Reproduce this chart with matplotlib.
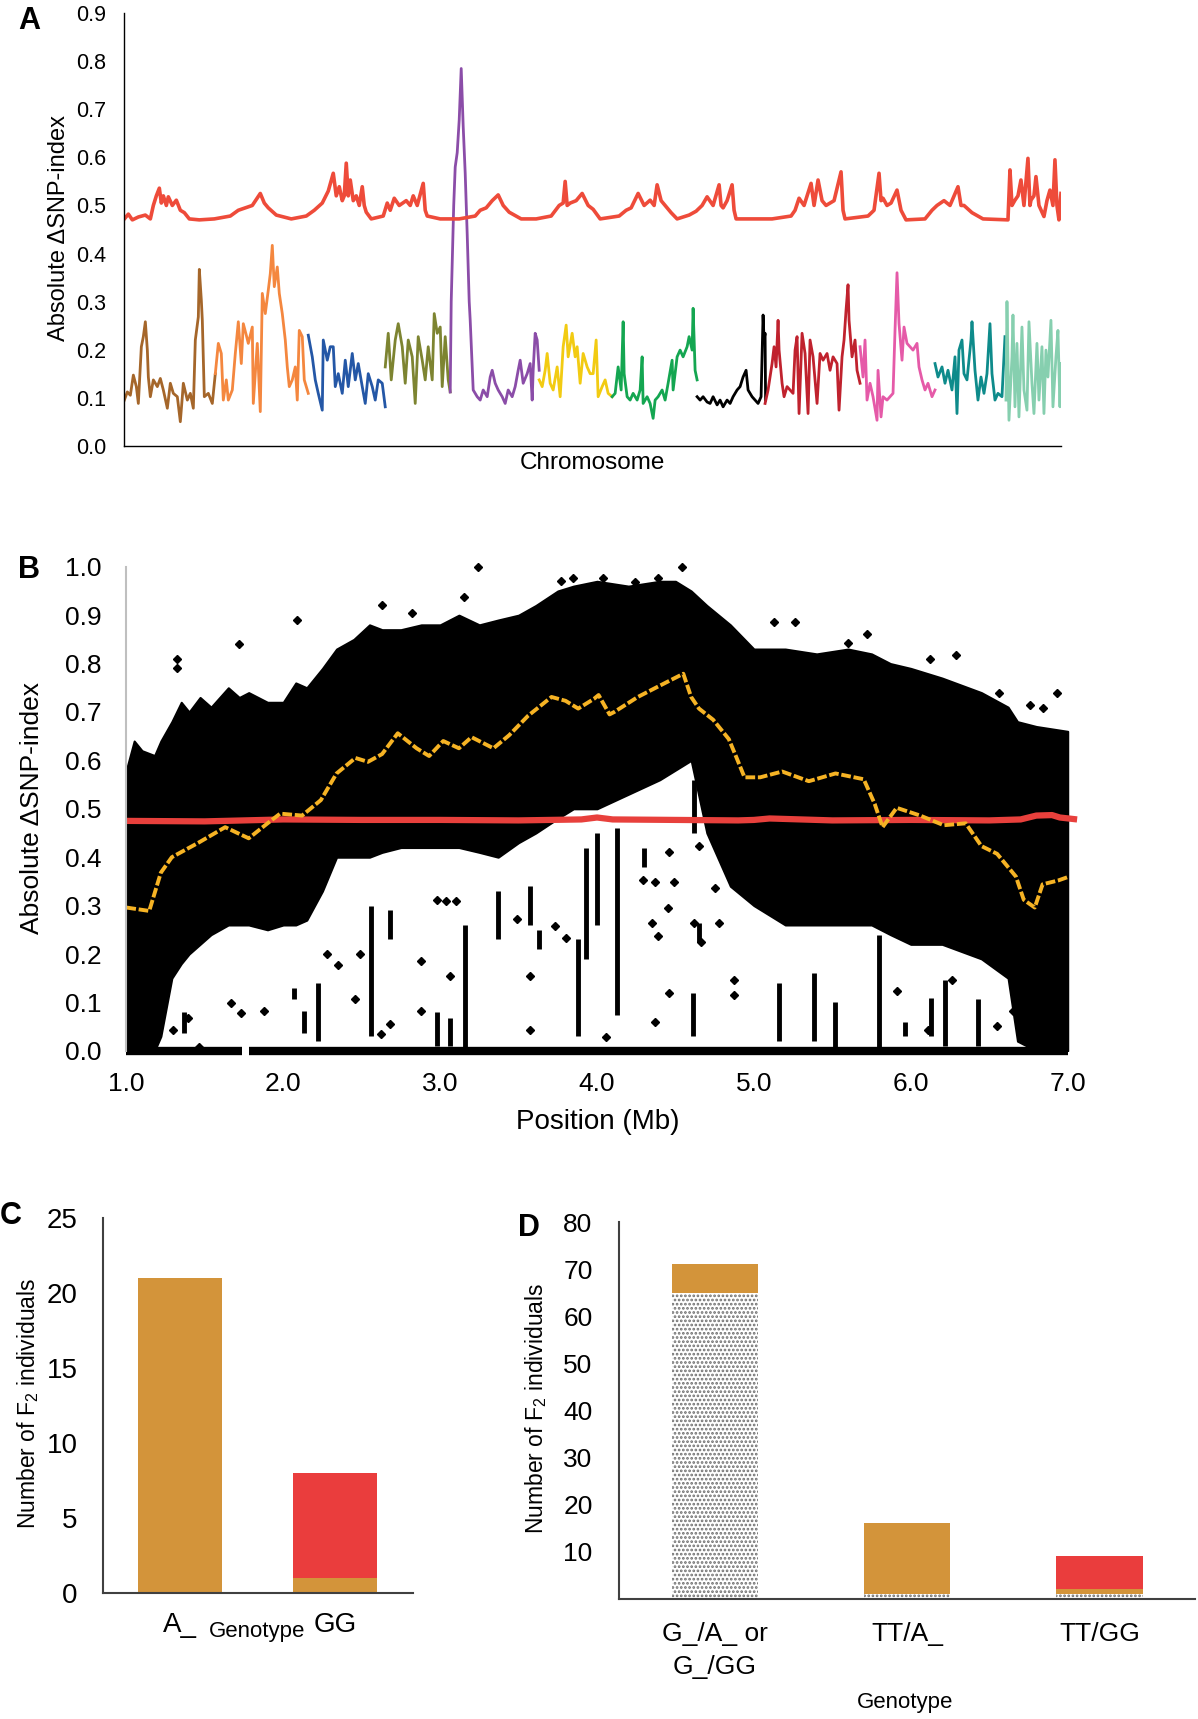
import matplotlib
matplotlib.use("Agg")
import matplotlib.pyplot as plt

plt.rcParams["font.family"] = ["Liberation Sans", "DejaVu Sans"]
plt.rcParams["mathtext.default"] = "regular"
plt.rcParams["hatch.linewidth"] = 1.3

NARROW = ["Liberation Sans Narrow", "Liberation Sans", "DejaVu Sans"]

# --- Panel A: absolute delta SNP-index per chromosome (position along genome, index)
chr1 = [(0, .095), (3, .112), (6, .105), (9, .147), (12, .123), (14, .088), (17, .206), (19, .227),
        (21, .258), (23, .199), (24, .143), (26, .102), (29, .137), (33, .123), (36, .14), (39, .116),
        (43, .078), (46, .13), (49, .109), (53, .102), (56, .05), (58, .102), (59, .13), (63, .095),
        (66, .109), (69, .078), (71, .22), (74, .268), (75, .367), (77, .303), (78, .261), (80, .102),
        (84, .109), (88, .088), (91, .15)]
chr2 = [(91, .15), (94, .213), (97, .192), (99, .095), (102, .137), (104, .095), (108, .116), (111, .192),
        (114, .258), (117, .171), (119, .254), (122, .23), (124, .213), (128, .247), (129, .088), (133, .213),
        (136, .071), (138, .317), (141, .275), (144, .324), (146, .358), (148, .417), (150, .331), (153, .372),
        (155, .317), (158, .275), (161, .22), (163, .164), (165, .123), (168, .137), (171, .164), (173, .095),
        (175, .24), (178, .227), (180, .137), (184, .109)]
chr3 = [(184, .23), (188, .185), (191, .137), (194, .109), (198, .074), (199, .22), (203, .178), (206, .206),
        (209, .206), (211, .123), (214, .15), (218, .109), (221, .178), (224, .123), (228, .192), (231, .137),
        (234, .171), (238, .123), (241, .088), (244, .15), (248, .123), (251, .095), (254, .137), (258, .13),
        (261, .081)]
chr4 = [(261, .164), (264, .234), (267, .137), (271, .22), (274, .254), (278, .206), (281, .13), (284, .22),
        (288, .185), (291, .088), (294, .227), (298, .178), (301, .137), (304, .206), (308, .137), (310, .275),
        (313, .234), (316, .247), (318, .123), (321, .227), (324, .137), (326, .112)]
chr5 = [(326, .112), (327, .30), (329.5, .50), (331, .58), (333, .61), (335, .678), (337, .785), (339, .664),
        (341, .567), (343, .44), (345, .30), (346, .261), (349, .116), (353, .102), (356, .095), (359, .116),
        (363, .102), (366, .143), (368, .157), (371, .13), (374, .116), (378, .102), (381, .088), (384, .116),
        (388, .102), (391, .123), (394, .157), (396, .178), (399, .13), (403, .15), (406, .171), (408, .095),
        (409, .157), (411, .234), (413, .22), (415, .157)]
chr6 = [(415, .137), (418, .123), (421, .157), (423, .192), (426, .13), (429, .116), (433, .164), (436, .102),
        (439, .206), (442, .251), (444, .185), (448, .234), (451, .185), (453, .206), (456, .13), (459, .192),
        (463, .164), (466, .15), (469, .15), (472, .22), (474, .102), (478, .123), (481, .137), (484, .109),
        (488, .102)]
chr7 = [(488, .102), (491, .109), (494, .164), (497, .116), (499, .258), (500, .15), (503, .102), (506, .095),
        (509, .109), (513, .095), (516, .116), (518, .185), (519, .088), (523, .102), (526, .088), (529, .057),
        (531, .095), (534, .102), (538, .116), (541, .095), (544, .13), (548, .178), (549, .116), (553, .185),
        (556, .199), (559, .185), (563, .206), (565, .227), (568, .199), (569, .286), (571, .157), (573, .137)]
chr8 = [(573, .102), (576, .095), (579, .102), (583, .091), (586, .088), (589, .102), (593, .085), (596, .095),
        (599, .081), (603, .095), (606, .088), (609, .102), (613, .116), (616, .123), (619, .143), (622, .157),
        (624, .116), (628, .102), (631, .095), (634, .088), (637, .102), (639, .272), (640, .22), (641, .234),
        (641.5, .095)]
chr9 = [(641, .088), (644, .116), (648, .171), (650, .206), (652, .164), (654, .261), (655, .199), (658, .13),
        (660, .102), (663, .123), (666, .116), (669, .109), (671, .199), (673, .227), (675, .067), (678, .234),
        (681, .192), (684, .067), (686, .22), (689, .185), (693, .088), (696, .192), (699, .178), (703, .192),
        (706, .157), (709, .185), (713, .171), (715, .074), (718, .185), (720, .22), (722, .282), (724, .335),
        (725, .261), (728, .185), (731, .22), (733, .157), (736, .13)]
chr10 = [(736, .206), (739, .143), (741, .22), (743, .095), (746, .13), (749, .102), (753, .053), (754, .157),
         (757, .06), (759, .102), (763, .095), (766, .102), (769, .109), (771, .24), (773, .36), (775, .254),
         (778, .178), (780, .247), (783, .213), (786, .206), (789, .199), (793, .213), (795, .164), (798, .137),
         (801, .116), (804, .13), (808, .102), (811, .116)]
chr11 = [(811, .171), (814, .143), (818, .164), (821, .13), (824, .157), (828, .116), (831, .185), (833, .067),
         (835, .199), (838, .22), (840, .15), (843, .137), (847, .22), (848, .258), (851, .157), (854, .095),
         (857, .143), (860, .109), (863, .15), (866, .254), (868, .15), (871, .095), (874, .109), (878, .102),
         (881, .227)]
chr12 = [(882, .095), (883, .30), (885, .053), (888, .185), (889, .272), (891, .081), (893, .213), (895, .06),
         (898, .247), (900, .116), (903, .074), (905, .258), (908, .13), (910, .067), (913, .213), (915, .095),
         (918, .206), (920, .067), (922, .199), (924, .143), (927, .261), (929, .081), (932, .185), (934, .24),
         (936, .081), (937, .171)]
chr_colors = ["#A5662A", "#F4873F", "#2457A6", "#7D8431", "#8B4DA8", "#F2CB12",
              "#14A651", "#000000", "#C0222E", "#E55AA8", "#0E8B8B", "#86CFAF"]

# 99% confidence threshold line
threshold_a = [(0, .472), (4, .482), (8, .470), (14, .476), (21, .480), (26, .472), (29, .500), (32, .520),
               (35, .536), (37, .505), (39, .52), (42, .50), (44, .518), (48, .50), (52, .511), (56, .49),
               (60, .485), (65, .472), (75, .470), (90, .472), (106, .478), (114, .49), (121, .495), (128, .50),
               (136, .525), (140, .505), (144, .495), (152, .480), (167, .472), (182, .478), (190, .49),
               (198, .505), (204, .53), (209, .567), (212, .52), (215, .539), (218, .51), (220, .52),
               (222, .588), (224, .52), (226, .553), (229, .51), (232, .52), (235, .50), (238, .539),
               (240, .50), (242, .486), (247, .472), (259, .478), (263, .505), (266, .49), (270, .515),
               (275, .50), (282, .51), (286, .50), (289, .52), (293, .50), (299, .546), (301, .49), (303, .478),
               (316, .472), (335, .472), (351, .478), (356, .49), (362, .495), (368, .51), (374, .522),
               (379, .50), (385, .486), (397, .472), (412, .472), (427, .478), (435, .50), (439, .505),
               (441, .55), (443, .50), (446, .505), (452, .51), (458, .525), (464, .50), (469, .492),
               (476, .472), (495, .478), (502, .49), (507, .495), (514, .525), (520, .50), (526, .511),
               (530, .50), (533, .543), (537, .51), (541, .50), (547, .485), (553, .472), (565, .48),
               (572, .488), (578, .50), (583, .518), (589, .50), (595, .543), (597, .50), (599, .495),
               (603, .51), (608, .543), (610, .49), (612, .472), (629, .472), (648, .472), (667, .478),
               (671, .49), (675, .515), (680, .50), (687, .546), (690, .50), (694, .553), (698, .51),
               (702, .50), (710, .51), (717, .57), (719, .49), (721, .472), (744, .478), (750, .49),
               (755, .567), (757, .51), (759, .515), (763, .50), (767, .505), (773, .532), (777, .49),
               (782, .470), (801, .472), (808, .49), (813, .50), (820, .51), (826, .50), (834, .539),
               (837, .50), (840, .50), (848, .485), (859, .472), (884, .470), (886, .574), (888, .50),
               (891, .511), (894, .52), (897, .553), (900, .50), (904, .598), (906, .50), (907, .511),
               (910, .52), (912, .56), (915, .50), (920, .477), (923, .51), (926, .532), (929, .50),
               (931, .595), (933, .50), (935, .47), (937, .525)]

# --- Panel B: SNP cloud envelope (Mb, lower, upper) plus sparse points
cloud_b = [(1.0, 0.0, .58), (1.05, 0.0, .64), (1.1, 0.0, .62), (1.18, 0.0, .61), (1.22, .03, .64),
           (1.29, .15, .68), (1.35, .18, .72), (1.4, .20, .70), (1.47, .22, .73), (1.54, .24, .71),
           (1.65, .26, .75), (1.72, .26, .73), (1.78, .26, .74), (1.9, .25, .72), (2.0, .26, .72),
           (2.08, .26, .76), (2.15, .27, .75), (2.25, .33, .79), (2.34, .40, .83), (2.45, .40, .85),
           (2.55, .40, .88), (2.63, .41, .87), (2.75, .42, .87), (2.88, .42, .88), (3.0, .42, .88),
           (3.12, .42, .90), (3.25, .41, .88), (3.37, .40, .89), (3.5, .43, .90), (3.61, .45, .92),
           (3.75, .48, .95), (3.85, .50, .96), (4.0, .50, .97), (4.2, .53, .96), (4.4, .56, .97),
           (4.5, .58, .97), (4.6, .60, .95), (4.7, .45, .92), (4.85, .34, .88), (5.0, .30, .83),
           (5.2, .26, .83), (5.4, .26, .82), (5.6, .26, .83), (5.75, .26, .82), (5.87, .24, .80),
           (6.0, .22, .79), (6.2, .22, .77), (6.45, .19, .74), (6.62, .15, .71), (6.68, .02, .68),
           (6.8, 0.0, .67), (7.0, 0.0, .66)]
zero_row_b = [(1.0, 1.74), (1.78, 7.0)]
streaks_b = [(1.37, .036, .08), (2.07, .107, .13), (2.13, .036, .083), (2.22, .02, .14), (2.56, .03, .30),
             (2.68, .23, .29), (2.98, .01, .08), (3.06, .01, .068), (3.16, 0.0, .26), (3.37, .23, .33),
             (3.57, .26, .34), (3.63, .21, .25), (3.88, .03, .23), (3.93, .19, .42), (4.0, .26, .45),
             (4.13, .075, .46), (4.30, .38, .42), (4.61, .03, .12), (4.62, .45, .56), (4.65, .225, .265),
             (4.82, .42, .46), (5.16, .02, .14), (5.38, .02, .16), (5.52, 0.0, .10), (5.80, 0.0, .24),
             (5.96, .03, .06), (6.13, .03, .11), (6.22, .01, .146), (6.43, .01, .107)]
points_b = [(3.24, 1.0), (2.09, .89), (1.72, .84), (1.32, .81), (1.32, .79), (2.63, .92), (2.82, .905),
            (3.15, .937), (3.77, .97), (3.85, .976), (4.54, 1.0), (4.39, .976), (4.24, .968), (4.04, .976),
            (5.13, .885), (5.26, .885), (5.72, .862), (5.6, .842), (6.12, .81), (6.29, .818), (6.93, .739),
            (6.84, .708), (6.76, .715), (6.56, .74),
            (2.88, .083), (2.98, .312), (3.04, .31), (3.10, .31), (2.88, .186), (3.06, .154), (3.57, .154),
            (3.57, .043), (3.73, .257), (3.80, .233), (3.49, .273), (2.68, .055), (2.62, .035), (2.46, .107),
            (2.49, .20), (2.35, .178), (2.28, .20), (1.88, .083), (1.73, .079), (1.67, .099), (1.46, .008),
            (1.39, .067), (1.30, .043), (4.46, .119), (4.37, .059), (4.87, .146), (4.87, .115), (4.45, .296),
            (4.35, .265), (4.39, .237), (4.29, .352), (4.37, .348), (4.49, .348), (4.62, .265), (4.66, .225),
            (4.46, .41), (4.65, .423), (4.75, .336), (4.78, .265), (4.06, .028), (6.26, .146), (5.91, .123),
            (6.11, .043), (6.55, .051), (6.65, .083)]
window_avg_b = [(1.0, .296), (1.146, .289), (1.22, .368), (1.29, .40), (1.46, .43), (1.63, .462), (1.78, .439),
                (1.90, .47), (1.98, .49), (2.12, .486), (2.24, .518), (2.34, .573), (2.46, .605), (2.54, .597),
                (2.63, .613), (2.73, .656), (2.85, .625), (2.93, .609), (3.02, .64), (3.12, .625), (3.20, .648),
                (3.34, .625), (3.44, .652), (3.56, .692), (3.71, .731), (3.80, .723), (3.88, .707), (3.98, .727),
                (4.01, .735), (4.08, .695), (4.11, .70), (4.26, .731), (4.38, .751), (4.55, .779), (4.60, .731),
                (4.65, .707), (4.74, .684), (4.84, .644), (4.89, .605), (4.94, .565), (5.04, .565), (5.18, .577),
                (5.35, .557), (5.52, .573), (5.70, .561), (5.77, .51), (5.82, .462), (5.91, .502), (6.06, .486),
                (6.21, .466), (6.35, .47), (6.45, .423), (6.55, .407), (6.67, .36), (6.72, .312), (6.79, .296),
                (6.84, .344), (6.94, .352), (7.01, .36)]
threshold_b = [(1.0, .475), (1.5, .474), (2.0, .478), (2.5, .477), (3.0, .477), (3.5, .476), (3.9, .478),
               (4.0, .482), (4.1, .478), (4.5, .477), (4.9, .476), (5.0, .477), (5.1, .480), (5.5, .476),
               (6.0, .477), (6.5, .476), (6.7, .478), (6.8, .486), (6.9, .487), (6.95, .482), (7.06, .478)]

# --- Panels C and D: F2 counts per genotype
c_genotypes = ["A_", "GG"]
c_orange = [21, 1]
c_red = [0, 7]

d_genotypes = ["G_/A_ or\nG_/GG", "TT/A_", "TT/GG"]
d_dotted = [65, 1, 1]
d_orange = [6, 15, 1]
d_red = [0, 0, 7]

ORANGE = "#D3943A"
RED = "#EA3D3D"

fig = plt.figure(figsize=(11.98, 17.19), dpi=100)

# ---------------- A
ax = fig.add_axes([0.1038, 0.7407, 0.7818, 0.2516])
chroms = [chr1, chr2, chr3, chr4, chr5, chr6, chr7, chr8, chr9, chr10, chr11, chr12]
for pts, col in zip(chroms, chr_colors):
    xs, ys = zip(*pts)
    ax.plot(xs, ys, color=col, lw=2.0)
xs, ys = zip(*threshold_a)
ax.plot(xs, ys, color="#EE4B3A", lw=2.6)
ax.set_xlim(0, 937)
ax.set_ylim(0, 0.9)
ax.set_yticks([i / 10 for i in range(10)])
ax.set_yticklabels([f"{i / 10:.1f}" for i in range(10)])
ax.set_xticks([])
ax.tick_params(length=0, labelsize=15.5, pad=13)
for s in ["top", "right"]:
    ax.spines[s].set_visible(False)
for s in ["left", "bottom"]:
    ax.spines[s].set_linewidth(1.0)
fig.text(0.024, 0.988, "A", fontsize=22, fontweight="bold", ha="center", va="center")
fig.text(0.0495, 0.8674, "Absolute \u0394SNP-index", fontsize=17, rotation=90, ha="center", va="center")
fig.text(0.4947, 0.7307, "Chromosome", fontsize=17.5, ha="center", va="center")

# ---------------- B
ax = fig.add_axes([0.1048, 0.3887, 0.7956, 0.2816])
cx, clo, chi = zip(*cloud_b)
ax.fill_between(cx, clo, chi, color="black", lw=1.5)
for x0, x1 in zero_row_b:
    ax.hlines(0, x0, x1, color="black", lw=6, clip_on=False)
sx, slo, shi = zip(*streaks_b)
ax.vlines(sx, slo, shi, color="black", lw=3.5)
px, py = zip(*points_b)
ax.plot(px, py, "D", color="black", ms=4.5, clip_on=False)
xs, ys = zip(*threshold_b)
ax.plot(xs, ys, color="#E8403C", lw=4.5, solid_capstyle="butt")
xs, ys = zip(*window_avg_b)
ax.plot(xs, ys, color="#F6B324", lw=2.8, ls=(0, (2.5, 0.7)))
ax.set_xlim(0.995, 7.07)
ax.set_ylim(0, 1.0)
ax.set_xticks(range(1, 8))
ax.set_xticklabels([f"{i:.1f}" for i in range(1, 8)])
ax.set_yticks([i / 10 for i in range(11)])
ax.set_yticklabels([f"{i / 10:.1f}" for i in range(11)])
ax.tick_params(axis="y", length=0, labelsize=19, pad=17)
ax.tick_params(axis="x", length=0, labelsize=19, pad=15)
for s in ["top", "right", "bottom"]:
    ax.spines[s].set_visible(False)
ax.spines["left"].set_color("#BFBFBF")
ax.spines["left"].set_linewidth(1.5)
fig.text(0.024, 0.6686, "B", fontsize=22, fontweight="bold", ha="center", va="center")
fig.text(0.0264, 0.530, "Absolute \u0394SNP-index", fontsize=19, rotation=90, ha="center", va="center")
fig.text(0.4987, 0.3475, "Position (Mb)", fontsize=20, ha="center", va="center")

# ---------------- C
ax = fig.add_axes([0.0857, 0.0733, 0.2588, 0.2182])
xc = range(len(c_genotypes))
ax.bar(xc, c_orange, width=0.54, color=ORANGE, lw=0)
ax.bar(xc, c_red, width=0.54, bottom=c_orange, color=RED, lw=0)
ax.set_xlim(-0.5, 1.5)
ax.set_ylim(0, 25)
ax.set_yticks(range(0, 26, 5))
ax.set_xticks(list(xc))
ax.set_xticklabels(c_genotypes)
ax.tick_params(axis="y", length=0, labelsize=20, pad=18)
ax.tick_params(axis="x", length=0, labelsize=20, pad=14)
for s in ["top", "right"]:
    ax.spines[s].set_visible(False)
for s in ["left", "bottom"]:
    ax.spines[s].set_color("#404040")
    ax.spines[s].set_linewidth(1.5)
fig.text(0.009, 0.2926, "C", fontsize=22, fontweight="bold", ha="center", va="center")
fig.text(0.023, 0.1836, "Number of F$_2$ individuals", fontsize=16.5, rotation=90, ha="center", va="center")
fig.text(0.2148, 0.0510, "Genotype", fontsize=16, ha="center", va="center")

# ---------------- D
ax = fig.add_axes([0.5167, 0.0700, 0.4812, 0.2191])
xd = range(len(d_genotypes))
ax.bar(xd, d_dotted, width=0.45, color="white", edgecolor="#6f6f6f", hatch="....", lw=0)
ax.bar(xd, d_orange, width=0.45, bottom=d_dotted, color=ORANGE, lw=0)
d_base = [a + b for a, b in zip(d_dotted, d_orange)]
ax.bar(xd, d_red, width=0.45, bottom=d_base, color=RED, lw=0)
ax.set_xlim(-0.5, 2.5)
ax.set_ylim(0, 80)
ax.set_yticks(range(10, 81, 10))
ax.set_xticks(list(xd))
ax.set_xticklabels(d_genotypes, family=NARROW, linespacing=1.45)
for lab in ax.get_yticklabels():
    lab.set_family(NARROW)
ax.tick_params(axis="y", length=0, labelsize=19, pad=19)
ax.tick_params(axis="x", length=0, labelsize=19, pad=17)
for s in ["top", "right"]:
    ax.spines[s].set_visible(False)
for s in ["left", "bottom"]:
    ax.spines[s].set_color("#404040")
    ax.spines[s].set_linewidth(1.5)
fig.text(0.4416, 0.2856, "D", fontsize=22, fontweight="bold", ha="center", va="center")
fig.text(0.4473, 0.1805, "Number of F$_2$ individuals", fontsize=16.5, rotation=90, ha="center", va="center")
fig.text(0.7552, 0.0095, "Genotype", fontsize=16, family=NARROW, ha="center", va="center")

fig.savefig("out.png", dpi=100)
